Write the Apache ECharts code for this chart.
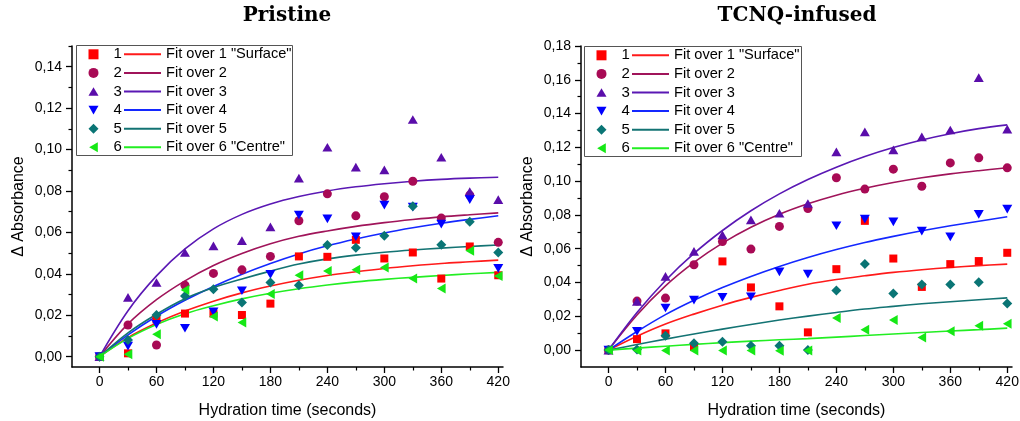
<!DOCTYPE html>
<html><head><meta charset="utf-8">
<script src="https://cdn.jsdelivr.net/npm/echarts@6/dist/echarts.min.js"></script>
<style>html,body{margin:0;padding:0;background:#fff}#c{width:1020px;height:421px}</style>
</head><body><div id="c"></div>
<script>
// ---- data ----
const times = [0,30,60,90,120,150,180,210,240,270,300,330,360,390,420];
const xTickValues = [0,60,120,180,240,300,360,420];
const xMinorTicks = [30,90,150,210,270,330,390];
const leftYTicks = [0,0.02,0.04,0.06,0.08,0.10,0.12,0.14];
const leftYMinor = [0.01,0.03,0.05,0.07,0.09,0.11,0.13,0.15];
const rightYTicks = [0,0.02,0.04,0.06,0.08,0.10,0.12,0.14,0.16,0.18];
const rightYMinor = [0.01,0.03,0.05,0.07,0.09,0.11,0.13,0.15,0.17];
const seriesNames = ['1','2','3','4','5','6'];
const fitNames = ['Fit over 1 "Surface"','Fit over 2','Fit over 3','Fit over 4','Fit over 5','Fit over 6 "Centre"'];
const panelTitles = ['Pristine','TCNQ-infused'];
const xAxisTitle = 'Hydration time (seconds)';
const yAxisTitle = '\u0394 Absorbance';

// Pristine measurements
const pristine1 = [0,0.0016,0.018,0.0208,0.0208,0.0201,0.0256,0.0484,0.0482,0.0564,0.0474,0.0503,0.0377,0.0532,0.0393];
const pristine2 = [0,0.0153,0.0056,0.0345,0.0402,0.0419,0.0484,0.0656,0.0786,0.068,0.0772,0.0847,0.0669,0.078,0.0552];
const pristine3 = [0,0.0286,0.0358,0.0503,0.0535,0.056,0.0627,0.0862,0.1011,0.0915,0.0902,0.1145,0.0963,0.0797,0.0758];
const pristine4 = [0,0.0051,0.0156,0.0137,0.0216,0.0318,0.0397,0.0684,0.0665,0.0579,0.0732,0.0722,0.064,0.0758,0.0426];
const pristine5 = [0,0.008,0.0201,0.0293,0.0326,0.0261,0.0358,0.0345,0.0539,0.0526,0.0584,0.0726,0.054,0.0651,0.0503];
const pristine6 = [0,0.0011,0.0108,0.0322,0.0194,0.0165,0.0302,0.0393,0.0414,0.0419,0.0431,0.0377,0.0329,0.0511,0.039];
// Pristine fit curves
const pristineFit1 = [0,0.0092,0.0162,0.022,0.0268,0.0308,0.0341,0.0369,0.0392,0.041,0.0426,0.0439,0.045,0.0458,0.0466];
const pristineFit2 = [0,0.0158,0.0275,0.0366,0.044,0.0498,0.0545,0.0581,0.0607,0.0629,0.0647,0.0662,0.0675,0.0685,0.0694];
const pristineFit3 = [0,0.0222,0.039,0.052,0.0617,0.0687,0.0737,0.0773,0.08,0.082,0.0835,0.0847,0.0856,0.0862,0.0866];
const pristineFit4 = [0,0.0105,0.0195,0.0272,0.0339,0.0398,0.045,0.0496,0.0535,0.0568,0.0597,0.0622,0.0644,0.0663,0.068];
const pristineFit5 = [0,0.0115,0.0205,0.028,0.0333,0.0375,0.0413,0.0447,0.0472,0.049,0.0504,0.0515,0.0524,0.0532,0.0539];
const pristineFit6 = [0,0.0088,0.0155,0.0207,0.0246,0.0279,0.0306,0.0328,0.0346,0.0361,0.0373,0.0383,0.0392,0.04,0.0407];

// TCNQ-infused measurements
const tcnq1 = [0,0.0065,0.0099,0.0018,0.0525,0.0371,0.0259,0.0105,0.0479,0.0765,0.0542,0.0374,0.0509,0.0527,0.0576];
const tcnq2 = [0,0.029,0.0308,0.0505,0.0643,0.0598,0.0732,0.0838,0.102,0.0953,0.1071,0.097,0.1108,0.1138,0.1079];
const tcnq3 = [0,0.0288,0.0436,0.0584,0.0682,0.0771,0.081,0.0868,0.1173,0.1292,0.1185,0.1262,0.1303,0.1613,0.1308];
const tcnq4 = [0,0.0111,0.0249,0.0296,0.0312,0.0316,0.0463,0.045,0.0736,0.0775,0.0759,0.0704,0.067,0.0803,0.0834];
const tcnq5 = [0,0.0004,0.0085,0.004,0.0049,0.0026,0.0026,0,0.0353,0.0509,0.0335,0.0389,0.0389,0.0402,0.0276];
const tcnq6 = [0,-0.0003,-0.0003,-0.0002,-0.0003,-0.0003,-0.0004,-0.0003,0.019,0.012,0.0178,0.0075,0.0112,0.0144,0.0156];
// TCNQ-infused fit curves
const tcnqFit1 = [0,0.0082,0.0154,0.0213,0.0266,0.0312,0.0353,0.039,0.0418,0.044,0.046,0.0476,0.0489,0.05,0.0509];
const tcnqFit2 = [0,0.0208,0.038,0.0519,0.0633,0.0727,0.0804,0.0866,0.0917,0.0958,0.0992,0.102,0.1043,0.1062,0.1079];
const tcnqFit3 = [0,0.0222,0.0412,0.0572,0.0708,0.0825,0.0925,0.101,0.1083,0.1146,0.1199,0.1244,0.1281,0.1311,0.1333];
const tcnqFit4 = [0,0.011,0.021,0.0295,0.037,0.0436,0.0495,0.0548,0.0595,0.0637,0.0673,0.0706,0.0736,0.0763,0.0789];
const tcnqFit5 = [0,0.0033,0.0065,0.0095,0.0124,0.0152,0.0178,0.0201,0.0223,0.0243,0.0259,0.0274,0.0286,0.0298,0.0309];
const tcnqFit6 = [0,0.0012,0.0023,0.0034,0.0044,0.0053,0.0061,0.0068,0.0077,0.0086,0.0095,0.0104,0.0113,0.0121,0.013];

// ---- styles ----
const markerColors = ['#FF0000','#A80A55','#5A0DAA','#0000FF','#0A7575','#16E816'];
const lineColors   = ['#FF1A1A','#A0145A','#5A18B4','#1428FF','#137373','#22EE22'];
const symbols = ['rect','circle','path://M5,0L10,8.66L0,8.66Z','path://M0,0L10,0L5,8.66Z','diamond','path://M0,5L8.66,0L8.66,10Z'];
const symbolSizes = [8,9,10,10,10,10];
const FONT = '"Liberation Sans", Arial, sans-serif';

const pristineData = [pristine1,pristine2,pristine3,pristine4,pristine5,pristine6];
const pristineFits = [pristineFit1,pristineFit2,pristineFit3,pristineFit4,pristineFit5,pristineFit6];
const tcnqData = [tcnq1,tcnq2,tcnq3,tcnq4,tcnq5,tcnq6];
const tcnqFits = [tcnqFit1,tcnqFit2,tcnqFit3,tcnqFit4,tcnqFit5,tcnqFit6];

const fmt = v => v.toFixed(2).replace('.', ',');
const pairs = arr => times.map((t,i) => [t, arr[i]]);

const grids = [
  {left:72, top:46, width:431, height:321, outerBoundsMode:'none', containLabel:false},
  {left:581, top:46, width:431, height:321, outerBoundsMode:'none', containLabel:false}
];

function mainX(g){
  return {type:'value', gridIndex:g, min:-29, max:425, position:'bottom',
    name:xAxisTitle, nameLocation:'middle', nameGap:36,
    nameTextStyle:{fontFamily:FONT, fontSize:16, color:'#000'},
    axisLine:{show:true, onZero:false, lineStyle:{color:'#000', width:1.5}},
    axisTick:{show:true, length:6, customValues:xTickValues, lineStyle:{color:'#000', width:1.3}},
    axisLabel:{show:true, customValues:xTickValues, margin:8, fontFamily:FONT, fontSize:14, color:'#000'},
    splitLine:{show:false}};
}
function minorX(g){
  return {type:'value', gridIndex:g, min:-29, max:425, position:'bottom',
    axisLine:{show:false, onZero:false}, axisLabel:{show:false}, splitLine:{show:false},
    axisTick:{show:true, length:3.5, customValues:xMinorTicks, lineStyle:{color:'#000', width:1.2}}};
}
function mainY(g, min, max, ticks){
  return {type:'value', gridIndex:g, min:min, max:max, position:'left',
    name:yAxisTitle, nameLocation:'middle', nameGap:45, nameRotate:90,
    nameTextStyle:{fontFamily:FONT, fontSize:16, color:'#000'},
    axisLine:{show:true, onZero:false, lineStyle:{color:'#000', width:1.5}},
    axisTick:{show:true, length:6, customValues:ticks, lineStyle:{color:'#000', width:1.3}},
    axisLabel:{show:true, customValues:ticks, margin:10, formatter:fmt, fontFamily:FONT, fontSize:14, color:'#000'},
    splitLine:{show:false}};
}
function minorY(g, min, max, ticks){
  return {type:'value', gridIndex:g, min:min, max:max, position:'left',
    axisLine:{show:false, onZero:false}, axisLabel:{show:false}, splitLine:{show:false},
    axisTick:{show:true, length:3.5, customValues:ticks, lineStyle:{color:'#000', width:1.2}}};
}

const series = [];
function addPanel(xi, yi, data, fits){
  for (let k=0;k<6;k++){
    series.push({type:'line', name:fitNames[k], xAxisIndex:xi, yAxisIndex:yi,
      data:pairs(fits[k]), smooth:0.35, symbol:'none', z:2,
      lineStyle:{color:lineColors[k], width:1.6}, itemStyle:{color:lineColors[k]}});
  }
  for (let k=0;k<6;k++){
    series.push({type:'scatter', name:seriesNames[k], xAxisIndex:xi, yAxisIndex:yi,
      data:pairs(data[k]), symbol:symbols[k], symbolSize:symbolSizes[k], symbolKeepAspect:true, z:3,
      itemStyle:{color:markerColors[k], opacity:1}});
  }
}
addPanel(0, 0, pristineData, pristineFits);
addPanel(2, 2, tcnqData, tcnqFits);

function legends(boxLeft, top){
  return [
    {orient:'vertical', left:boxLeft+12, top:top, padding:0, itemWidth:10, itemHeight:10, itemGap:3.6,
     selectedMode:false, data:seriesNames,
     textStyle:{fontFamily:FONT, fontSize:15, lineHeight:15, color:'#000', padding:[0,0,0,10]}},
    {orient:'vertical', left:boxLeft+46.5, top:top, padding:0, itemWidth:37, itemHeight:15, itemGap:3.6,
     selectedMode:false, data:fitNames, itemStyle:{opacity:0},
     textStyle:{fontFamily:FONT, fontSize:14.6, lineHeight:15, color:'#000'}}
  ];
}

const option = {
  animation:false,
  backgroundColor:'#fff',
  grid:grids,
  xAxis:[mainX(0), minorX(0), mainX(1), minorX(1)],
  yAxis:[mainY(0,-0.005,0.15,leftYTicks), minorY(0,-0.005,0.15,leftYMinor),
         mainY(1,-0.01,0.18,rightYTicks), minorY(1,-0.01,0.18,rightYMinor)],
  legend:[...legends(76.5,46.8), ...legends(584.5,47.8)],
  graphic:[
    {type:'rect', shape:{x:76.5, y:45.5, width:216, height:110}, style:{fill:'none', stroke:'#555', lineWidth:1}, z:10},
    {type:'rect', shape:{x:584.5, y:46.5, width:217, height:110}, style:{fill:'none', stroke:'#555', lineWidth:1}, z:10},
    {type:'text', x:287, y:6, style:{text:panelTitles[0], textAlign:'center', fontFamily:'"DejaVu Serif", serif', fontWeight:'bold', fontSize:20, fill:'#000'}},
    {type:'text', x:797, y:6, style:{text:panelTitles[1], textAlign:'center', fontFamily:'"DejaVu Serif", serif', fontWeight:'bold', fontSize:20, fill:'#000'}}
  ],
  series:series
};
const chart = echarts.init(document.getElementById('c'), null, {renderer:'canvas'});
chart.setOption(option);
</script></body></html>
